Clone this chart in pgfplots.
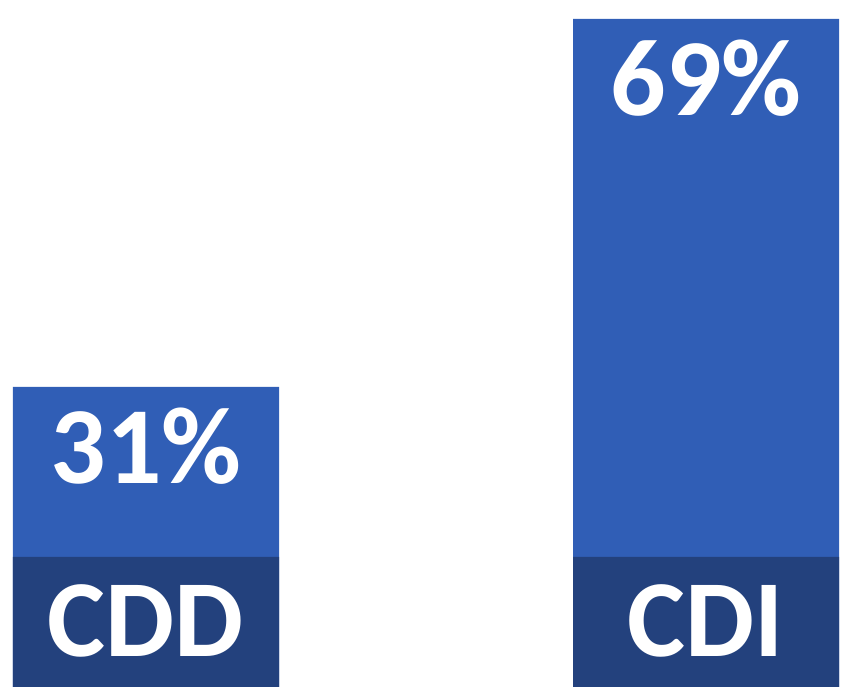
\documentclass[border=0pt]{standalone}
\usepackage{pgfplots}
\pgfplotsset{compat=1.18}
\usepackage{fontspec}
\setmainfont{Carlito}
\definecolor{barblue}{HTML}{305EB6}
\definecolor{darkblue}{HTML}{23417D}
\begin{document}
\begin{tikzpicture}
\begin{axis}[
  scale only axis,
  width=850bp, height=699bp,
  xmin=-0.2607, xmax=1.257,
  ymin=-1.24, ymax=70.96,
  axis lines=none,
  ticks=none,
  clip=false,
  ybar, bar width=0.475,
  /pgf/number format/assume math mode=true,
]
\addplot[fill=barblue, draw=none, bar shift=0pt,
  nodes near coords={\pgfmathprintnumber{\pgfplotspointmeta}\%},
  nodes near coords style={anchor=base, yshift=-97bp, text=white,
    font=\bfseries\fontsize{110}{110}\selectfont}]
  coordinates {(0,31) (1,69)};
\addplot[fill=darkblue, draw=none, bar shift=0pt,
  point meta=explicit symbolic,
  nodes near coords,
  nodes near coords style={anchor=base, yshift=-100bp, text=white,
    font=\bfseries\fontsize{110}{110}\selectfont}]
  coordinates {(0,13.43)[CDD] (1,13.43)[CDI]};
\path (rel axis cs:0,0) rectangle (rel axis cs:1,1);
\end{axis}
\end{tikzpicture}
\end{document}
